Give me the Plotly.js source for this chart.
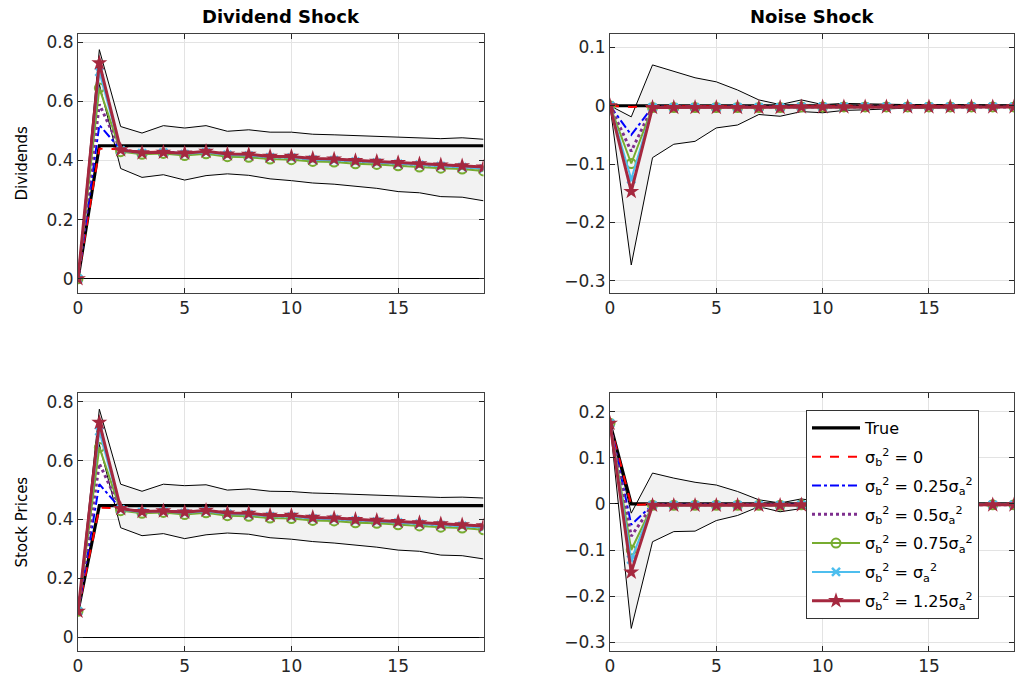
<!DOCTYPE html>
<html>
<head>
<meta charset="utf-8">
<script src="https://cdn.plot.ly/plotly-3.0.1.min.js"></script>
<style>html,body{margin:0;padding:0;background:#fff;}#chart{width:1016px;height:682px;}</style>
</head>
<body>
<div id="chart"></div>
<script>
// ---------- data ----------
const periods = [0,1,2,3,4,5,6,7,8,9,10,11,12,13,14,15,16,17,18,19];

const seriesNames = ['True', 'σ<sub>b</sub><sup>2</sup> = 0', 'σ<sub>b</sub><sup>2</sup> = 0.25σ<sub>a</sub><sup>2</sup>',
  'σ<sub>b</sub><sup>2</sup> = 0.5σ<sub>a</sub><sup>2</sup>', 'σ<sub>b</sub><sup>2</sup> = 0.75σ<sub>a</sub><sup>2</sup>',
  'σ<sub>b</sub><sup>2</sup> = σ<sub>a</sub><sup>2</sup>', 'σ<sub>b</sub><sup>2</sup> = 1.25σ<sub>a</sub><sup>2</sup>'];
const panelTitles = ['Dividend Shock', 'Noise Shock'];
const rowTitles = ['Dividends', 'Stock Prices'];

// Dividend shock -> Dividends
const dd_upper = [0,0.775,0.515,0.493,0.518,0.510,0.518,0.499,0.504,0.496,0.496,0.489,0.487,0.484,0.481,0.479,0.477,0.474,0.477,0.472];
const dd_lower = [0,0.658,0.373,0.343,0.352,0.334,0.349,0.355,0.350,0.338,0.332,0.324,0.320,0.313,0.306,0.295,0.291,0.278,0.276,0.264];
const dd_true  = [0,0.45,0.45,0.45,0.45,0.45,0.45,0.45,0.45,0.45,0.45,0.45,0.45,0.45,0.45,0.45,0.45,0.45,0.45,0.45];
const dd_s0    = [0,0.440,0.438,0.428,0.430,0.426,0.430,0.422,0.420,0.414,0.413,0.406,0.404,0.399,0.396,0.392,0.388,0.384,0.381,0.376];
const dd_s25   = [0,0.520,0.437,0.427,0.429,0.425,0.429,0.421,0.419,0.413,0.412,0.405,0.403,0.398,0.395,0.391,0.387,0.383,0.380,0.375];
const dd_s50   = [0,0.590,0.436,0.426,0.428,0.424,0.429,0.420,0.418,0.412,0.411,0.404,0.402,0.397,0.394,0.390,0.386,0.382,0.379,0.374];
const dd_s75   = [0,0.645,0.430,0.421,0.424,0.417,0.423,0.413,0.411,0.405,0.403,0.397,0.395,0.389,0.387,0.382,0.378,0.374,0.371,0.365];
const dd_s100  = [0,0.700,0.434,0.425,0.427,0.422,0.428,0.419,0.417,0.411,0.410,0.403,0.401,0.396,0.393,0.389,0.385,0.381,0.378,0.373];
const dd_s125  = [0,0.730,0.436,0.426,0.428,0.425,0.431,0.422,0.421,0.414,0.414,0.407,0.405,0.400,0.397,0.393,0.389,0.385,0.382,0.378];

// Dividend shock -> Stock Prices
const dp_upper = [0.092,0.775,0.520,0.496,0.520,0.515,0.518,0.500,0.504,0.496,0.495,0.490,0.488,0.485,0.482,0.479,0.477,0.475,0.476,0.473];
const dp_lower = [0.075,0.655,0.372,0.345,0.352,0.335,0.348,0.354,0.350,0.338,0.333,0.325,0.320,0.313,0.306,0.296,0.292,0.279,0.277,0.266];
const dp_true  = [0.088,0.447,0.447,0.447,0.447,0.447,0.447,0.447,0.447,0.447,0.447,0.447,0.447,0.447,0.447,0.447,0.447,0.447,0.447,0.447];
const dp_s0    = [0.088,0.440,0.438,0.428,0.430,0.426,0.430,0.422,0.420,0.414,0.413,0.406,0.404,0.399,0.396,0.392,0.388,0.384,0.381,0.376];
const dp_s25   = [0.088,0.520,0.437,0.427,0.429,0.425,0.429,0.421,0.419,0.413,0.412,0.405,0.403,0.398,0.395,0.391,0.387,0.383,0.380,0.375];
const dp_s50   = [0.088,0.590,0.436,0.426,0.428,0.424,0.429,0.420,0.418,0.412,0.411,0.404,0.402,0.397,0.394,0.390,0.386,0.382,0.379,0.374];
const dp_s75   = [0.088,0.645,0.430,0.421,0.424,0.417,0.423,0.413,0.411,0.405,0.403,0.397,0.395,0.389,0.387,0.382,0.378,0.374,0.371,0.365];
const dp_s100  = [0.088,0.700,0.434,0.425,0.427,0.422,0.428,0.419,0.417,0.411,0.410,0.403,0.401,0.396,0.393,0.389,0.385,0.381,0.378,0.373];
const dp_s125  = [0.088,0.730,0.437,0.427,0.429,0.425,0.431,0.422,0.421,0.414,0.414,0.407,0.405,0.400,0.397,0.393,0.389,0.385,0.382,0.378];

// Noise shock -> Dividends
const nd_upper = [0,-0.019,0.070,0.059,0.048,0.041,0.027,0.010,0.002,0.010,0.002,0.004,0.003,0.003,0.002,0.002,0.002,0.001,0.001,0.001];
const nd_lower = [0,-0.273,-0.089,-0.066,-0.061,-0.038,-0.033,-0.015,-0.018,-0.010,-0.012,-0.008,-0.007,-0.005,-0.004,-0.004,-0.003,-0.003,-0.002,-0.002];
const nd_true  = [0,0,0,0,0,0,0,0,0,0,0,0,0,0,0,0,0,0,0,0];
const nd_s0    = [0,-0.002,-0.001,-0.001,-0.001,-0.001,-0.001,-0.001,-0.001,-0.001,-0.001,-0.001,-0.001,-0.001,-0.001,-0.001,-0.001,-0.001,-0.001,-0.001];
const nd_s25   = [0,-0.050,-0.002,-0.002,-0.002,-0.002,-0.002,-0.002,-0.002,-0.002,-0.002,-0.002,-0.002,-0.002,-0.002,-0.002,-0.002,-0.002,-0.002,-0.002];
const nd_s50   = [0,-0.078,-0.002,-0.002,-0.002,-0.002,-0.002,-0.002,-0.002,-0.002,-0.002,-0.002,-0.002,-0.002,-0.002,-0.002,-0.002,-0.002,-0.002,-0.002];
const nd_s75   = [0,-0.099,-0.003,-0.003,-0.003,-0.003,-0.003,-0.003,-0.003,-0.002,-0.002,-0.002,-0.002,-0.002,-0.002,-0.002,-0.002,-0.002,-0.002,-0.002];
const nd_s100  = [0,-0.126,-0.003,-0.003,-0.003,-0.003,-0.003,-0.003,-0.003,-0.002,-0.002,-0.002,-0.002,-0.002,-0.002,-0.002,-0.002,-0.002,-0.002,-0.002];
const nd_s125  = [0,-0.147,-0.003,-0.003,-0.003,-0.003,-0.003,-0.003,-0.003,-0.002,-0.002,-0.002,-0.002,-0.002,-0.002,-0.002,-0.002,-0.002,-0.002,-0.002];

// Noise shock -> Stock Prices
const np_upper = [0.175,-0.020,0.067,0.056,0.047,0.041,0.027,0.009,0.002,0.011,0.003,0.004,0.003,0.003,0.002,0.002,0.002,0.001,0.001,0.001];
const np_lower = [0.175,-0.270,-0.082,-0.060,-0.059,-0.036,-0.025,-0.006,-0.017,-0.010,-0.011,-0.008,-0.007,-0.005,-0.004,-0.004,-0.003,-0.003,-0.002,-0.002];
const np_true  = [0.175,0,0,0,0,0,0,0,0,0,0,0,0,0,0,0,0,0,0,0];
const np_s0    = [0.175,-0.002,-0.001,-0.001,-0.001,-0.001,-0.001,-0.001,-0.001,-0.001,-0.001,-0.001,-0.001,-0.001,-0.001,-0.001,-0.001,-0.001,-0.001,-0.001];
const np_s25   = [0.175,-0.045,-0.002,-0.002,-0.002,-0.002,-0.002,-0.002,-0.002,-0.002,-0.002,-0.002,-0.002,-0.002,-0.002,-0.002,-0.002,-0.002,-0.002,-0.002];
const np_s50   = [0.175,-0.070,-0.002,-0.002,-0.002,-0.002,-0.002,-0.002,-0.002,-0.002,-0.002,-0.002,-0.002,-0.002,-0.002,-0.002,-0.002,-0.002,-0.002,-0.002];
const np_s75   = [0.175,-0.100,-0.003,-0.003,-0.003,-0.003,-0.003,-0.003,-0.003,-0.002,-0.002,-0.002,-0.002,-0.002,-0.002,-0.002,-0.002,-0.002,-0.002,-0.002];
const np_s100  = [0.175,-0.121,-0.003,-0.003,-0.003,-0.003,-0.003,-0.003,-0.003,-0.002,-0.002,-0.002,-0.002,-0.002,-0.002,-0.002,-0.002,-0.002,-0.002,-0.002];
const np_s125  = [0.175,-0.148,-0.003,-0.003,-0.003,-0.003,-0.003,-0.003,-0.003,-0.002,-0.002,-0.002,-0.002,-0.002,-0.002,-0.002,-0.002,-0.002,-0.002,-0.002];

// ---------- styles ----------
const FONT = 'DejaVu Sans, Liberation Sans, Arial, sans-serif';
const styles = [
  {line:{color:'#000000', width:3.2}, mode:'lines'},
  {line:{color:'#FF0000', width:2, dash:'dash'}, mode:'lines'},
  {line:{color:'#0000FF', width:2, dash:'dashdot'}, mode:'lines'},
  {line:{color:'#7E2F8E', width:3, dash:'dot'}, mode:'lines'},
  {line:{color:'#77AC30', width:2}, mode:'lines+markers', marker:{symbol:'circle-open', size:9, color:'#77AC30', line:{width:2, color:'#77AC30'}}},
  {line:{color:'#4DBEEE', width:2}, mode:'lines+markers', marker:{symbol:'x-thin-open', size:8, color:'#4DBEEE', line:{width:2.5, color:'#4DBEEE'}}},
  {line:{color:'#A5283F', width:3}, mode:'lines+markers', marker:{symbol:'star', size:12, color:'#A5283F', line:{width:0}}}
];

const panels = [
  {xa:'x', ya:'y',  up:dd_upper, lo:dd_lower, s:[dd_true,dd_s0,dd_s25,dd_s50,dd_s75,dd_s100,dd_s125], legend:true},
  {xa:'x2', ya:'y2', up:nd_upper, lo:nd_lower, s:[nd_true,nd_s0,nd_s25,nd_s50,nd_s75,nd_s100,nd_s125], legend:false},
  {xa:'x3', ya:'y3', up:dp_upper, lo:dp_lower, s:[dp_true,dp_s0,dp_s25,dp_s50,dp_s75,dp_s100,dp_s125], legend:false},
  {xa:'x4', ya:'y4', up:np_upper, lo:np_lower, s:[np_true,np_s0,np_s25,np_s50,np_s75,np_s100,np_s125], legend:false}
];

const traces = [];
panels.forEach(p => {
  traces.push({x:periods, y:p.lo, xaxis:p.xa, yaxis:p.ya, mode:'lines', line:{color:'#000', width:1}, showlegend:false, hoverinfo:'skip'});
  traces.push({x:periods, y:p.up, xaxis:p.xa, yaxis:p.ya, mode:'lines', line:{color:'#000', width:1}, fill:'tonexty', fillcolor:'#F2F2F2', showlegend:false, hoverinfo:'skip'});
  p.s.forEach((ys, i) => {
    const t = Object.assign({x:periods, y:ys, xaxis:p.xa, yaxis:p.ya, name:seriesNames[i], showlegend:p.legend, legendgroup:'g'+i}, JSON.parse(JSON.stringify(styles[i])));
    traces.push(t);
  });
});

const tickFont = {family:FONT, size:17, color:'#262626'};
function xax(domain) {
  return {domain:domain, range:[0,19], tickvals:[0,5,10,15], ticks:'inside', ticklen:5, tickcolor:'#262626',
    showline:true, linecolor:'#404040', linewidth:1, mirror:'allticks', showgrid:true, gridcolor:'#E3E3E3',
    zeroline:false, tickfont:tickFont, fixedrange:true};
}
function yax(domain, range, tickvals, title) {
  const a = {domain:domain, range:range, tickvals:tickvals, ticks:'inside', ticklen:5, tickcolor:'#262626',
    showline:true, linecolor:'#404040', linewidth:1, mirror:'allticks', showgrid:true, gridcolor:'#E3E3E3',
    zeroline:true, zerolinecolor:'#000000', zerolinewidth:1, tickfont:tickFont, fixedrange:true};
  if (title) a.title = {text:title, font:{family:FONT, size:15, color:'#000'}, standoff:15};
  return a;
}

const xL = [78/1016, 483.5/1016], xR = [610/1016, 1014/1016];
const yT = [1-292.7/682, 1-34/682], yB = [1-651/682, 1-393.3/682];

const layout = {
  width:1016, height:682,
  margin:{l:0, r:0, t:0, b:0},
  paper_bgcolor:'#fff', plot_bgcolor:'#fff',
  showlegend:true,
  font:{family:FONT, color:'#000'},
  xaxis: Object.assign(xax(xL), {anchor:'y'}),
  yaxis: Object.assign(yax(yT, [-0.047, 0.828], [0,0.2,0.4,0.6,0.8], rowTitles[0]), {anchor:'x'}),
  xaxis2: Object.assign(xax(xR), {anchor:'y2'}),
  yaxis2: Object.assign(yax(yT, [-0.3205, 0.123], [-0.3,-0.2,-0.1,0,0.1], null), {anchor:'x2'}),
  xaxis3: Object.assign(xax(xL), {anchor:'y3'}),
  yaxis3: Object.assign(yax(yB, [-0.047, 0.829], [0,0.2,0.4,0.6,0.8], rowTitles[1]), {anchor:'x3'}),
  xaxis4: Object.assign(xax(xR), {anchor:'y4'}),
  yaxis4: Object.assign(yax(yB, [-0.319, 0.24], [-0.3,-0.2,-0.1,0,0.1,0.2], null), {anchor:'x4'}),
  legend:{x:806/1016, y:1-410/682, xanchor:'left', yanchor:'top', bgcolor:'#fff', bordercolor:'#333', borderwidth:1,
    font:{family:FONT, size:16, color:'#000'}, traceorder:'grouped', tracegroupgap:5, itemwidth:48},
  annotations:[
    {text:'<b>'+panelTitles[0]+'</b>', xref:'paper', yref:'paper', x:(xL[0]+xL[1])/2, y:1-17/682, xanchor:'center', yanchor:'middle', showarrow:false, font:{family:FONT, size:18, color:'#000'}},
    {text:'<b>'+panelTitles[1]+'</b>', xref:'paper', yref:'paper', x:(xR[0]+xR[1])/2, y:1-17/682, xanchor:'center', yanchor:'middle', showarrow:false, font:{family:FONT, size:18, color:'#000'}}
  ]
};

Plotly.newPlot('chart', traces, layout, {displayModeBar:false, staticPlot:true});
</script>
</body>
</html>
